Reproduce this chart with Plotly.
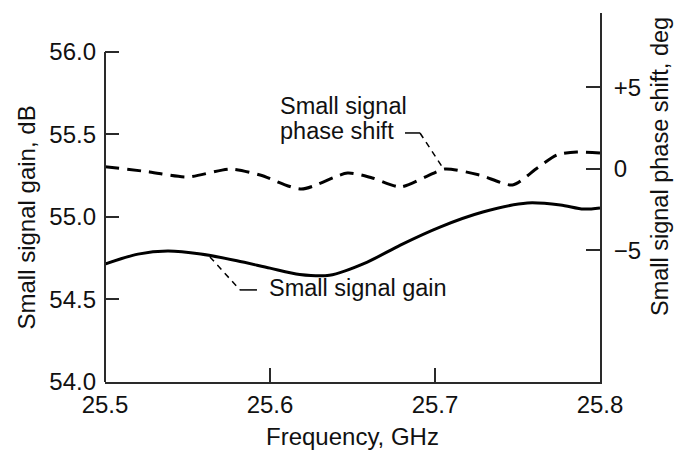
import plotly.graph_objects as go

# ---- data ----
freq_gain = [25.500, 25.520, 25.538, 25.558, 25.580, 25.600, 25.618, 25.636, 25.659,
             25.679, 25.703, 25.729, 25.756, 25.776, 25.790, 25.800]
gain_db = [54.715, 54.775, 54.794, 54.776, 54.735, 54.690, 54.652, 54.647, 54.727,
           54.830, 54.939, 55.030, 55.085, 55.073, 55.048, 55.055]

freq_phase = [25.500, 25.527, 25.550, 25.576, 25.594, 25.619, 25.647, 25.662, 25.679,
              25.695, 25.706, 25.727, 25.747, 25.762, 25.774, 25.786, 25.800]
phase_deg = [0.14, -0.18, -0.49, 0.0, -0.37, -1.23, -0.25, -0.55, -1.10,
             -0.45, 0.0, -0.37, -0.98, 0.06, 0.86, 1.04, 0.98]

x_ticks = [25.5, 25.6, 25.7, 25.8]
x_ticktext = ["25.5", "25.6", "25.7", "25.8"]
gain_ticks = [54.0, 54.5, 55.0, 55.5, 56.0]
gain_ticktext = ["54.0", "54.5", "55.0", "55.5", "56.0"]
phase_ticks = [-5, 0, 5]
phase_ticktext = ["\u22125", "0", "+5"]

FONT = "Liberation Sans, Arial, Helvetica, sans-serif"
AX = "#2a2a2a"
fs = 24
fa = 23.5

fig = go.Figure()
fig.add_trace(go.Scatter(x=freq_gain, y=gain_db, mode="lines",
                         line=dict(color="black", width=3, shape="spline", smoothing=0.8),
                         yaxis="y", showlegend=False, hoverinfo="skip"))
fig.add_trace(go.Scatter(x=freq_phase, y=phase_deg, mode="lines",
                         line=dict(color="black", width=3, dash="14px,8px", shape="spline", smoothing=0.7),
                         yaxis="y2", showlegend=False, hoverinfo="skip"))

fig.update_layout(
    width=678, height=455,
    margin=dict(l=105, r=78, t=13, b=73, autoexpand=False),
    paper_bgcolor="white", plot_bgcolor="white",
    font=dict(family=FONT, size=fs, color="#111111"),
    xaxis=dict(range=[25.5, 25.8], tickvals=x_ticks, ticktext=x_ticktext, ticks="inside", ticklen=14,
               tickwidth=2, tickcolor=AX, showline=True, linecolor=AX, linewidth=2, showgrid=False,
               zeroline=False, ticklabelstandoff=0, automargin=False),
    yaxis=dict(range=[54.0, 56.236], tickvals=gain_ticks, ticktext=gain_ticktext, ticks="inside", ticklen=14,
               tickwidth=2, tickcolor=AX, showline=False, showgrid=False, zeroline=False,
               ticklabelstandoff=8, automargin=False),
    yaxis2=dict(range=[-13.07, 9.57], tickvals=phase_ticks, ticktext=phase_ticktext, overlaying="y",
                side="right", ticks="inside", ticklen=14, tickwidth=2, tickcolor=AX, showline=True,
                linecolor=AX, linewidth=2, showgrid=False, zeroline=False, ticklabelstandoff=7,
                automargin=False),
)

# left axis line only from 54 to 56
fig.add_shape(type="line", xref="paper", yref="y", x0=0, x1=0, y0=54.0, y1=56.0,
              line=dict(color=AX, width=2))

# axis titles
fig.add_annotation(text="Frequency, GHz", xref="paper", yref="paper", x=0.499, y=-0.149,
                   xanchor="center", yanchor="middle", showarrow=False, font=dict(size=fs))
fig.add_annotation(text="Small signal gain, dB", xref="paper", yref="paper", x=-0.1576, y=0.4458,
                   xanchor="center", yanchor="middle", textangle=-90, showarrow=False, font=dict(size=fs))
fig.add_annotation(text="Small signal phase shift, deg", xref="paper", yref="paper", x=1.121, y=0.585,
                   xanchor="center", yanchor="middle", textangle=-90, showarrow=False, font=dict(size=23.5))

# curve labels
fig.add_annotation(text="Small signal gain", xref="x", yref="y", x=25.5982, y=54.570,
                   xanchor="left", yanchor="middle", showarrow=False, font=dict(size=fa))
fig.add_annotation(text="Small signal", xref="x", yref="y", x=25.6048, y=55.673,
                   xanchor="left", yanchor="middle", showarrow=False, font=dict(size=fa))
fig.add_annotation(text="phase shift", xref="x", yref="y", x=25.6048, y=55.518,
                   xanchor="left", yanchor="middle", showarrow=False, font=dict(size=fa))

# leader lines
fig.add_shape(type="line", xref="x", yref="y", x0=25.5636, y0=54.758, x1=25.5818, y1=54.558,
              line=dict(color="black", width=1.5, dash="6px,5px"))
fig.add_shape(type="line", xref="x", yref="y", x0=25.5818, y0=54.558, x1=25.5921, y1=54.558,
              line=dict(color="black", width=1.5))
fig.add_shape(type="line", xref="x", yref="y", x0=25.6818, y0=55.509, x1=25.6909, y1=55.509,
              line=dict(color="black", width=1.5))
fig.add_shape(type="line", xref="x", yref="y", x0=25.6909, y0=55.509, x1=25.7048, y1=55.297,
              line=dict(color="black", width=1.5, dash="6px,5px"))

fig.write_html("out.html", config={"displayModeBar": False},
               post_script="document.body.style.margin='0';document.body.style.overflow='hidden';")
